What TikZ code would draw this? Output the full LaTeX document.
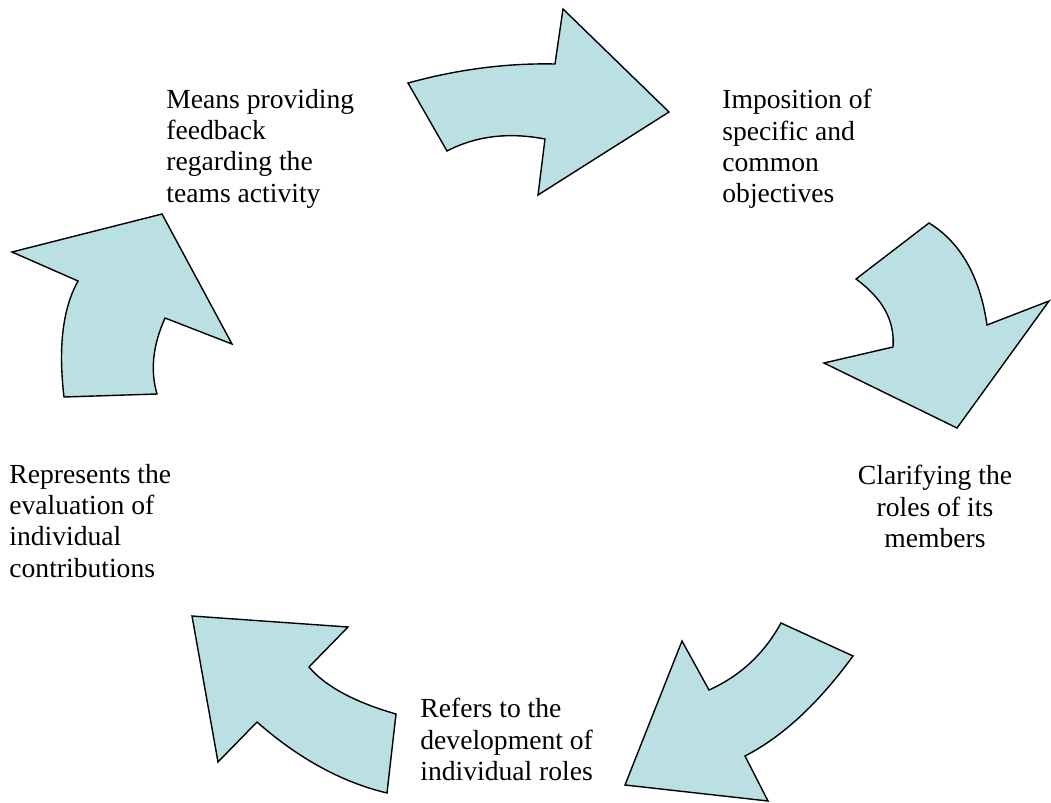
\documentclass[tikz,border=0pt]{standalone}
\usepackage{fontspec}
\setmainfont{Liberation Serif}
\definecolor{arrowfill}{RGB}{187,224,227}
\begin{document}
\begin{tikzpicture}[x=0.5pt,y=-0.5pt,
        cyclearrow/.style={draw=black,fill=arrowfill,line width=0.7pt,line join=miter},
        cycletext/.style={inner sep=0pt,align=left,font=\fontsize{13.8}{15.6}\selectfont}]
        \useasboundingbox (0,0) rectangle (1051,803);

        % the five curved arrows of the cycle
        \draw[cyclearrow] (408,83) .. controls (459,69) and (508,63) .. (555,64) -- (563,9) -- (669,112)
         -- (538,195) -- (545,139) .. controls (508,132) and (476,136) .. (447,151) -- cycle;
        \draw[cyclearrow] (929,223) .. controls (960,242) and (980,276) .. (987,325) -- (1049,301) -- (957,428)
         -- (824,363) -- (893,347) .. controls (895,320) and (882,298) .. (856,279) -- cycle;
        \draw[cyclearrow] (853,656) .. controls (818,704) and (782,737) .. (745,756) -- (768,801) -- (625,785)
         -- (682,641) -- (709,690) .. controls (740,676) and (764,654) .. (781,623) -- cycle;
        \draw[cyclearrow] (387,793) .. controls (341,782) and (298,758) .. (257,722) -- (218,762) -- (192,616)
         -- (348,627) -- (309,667) .. controls (325,686) and (354,702) .. (396,714) -- cycle;
        \draw[cyclearrow] (64,397) .. controls (58,346) and (63,308) .. (78,281) -- (12,252) -- (162,214)
         -- (232,344) -- (165,318) .. controls (153,345) and (150,370) .. (157,394) -- cycle;

        \node[cycletext,anchor=north west] (feedback) at (166,89)
         {Means providing\\feedback\\regarding the\\teams activity};
        \node[cycletext,anchor=north west] (objectives) at (722,89)
         {Imposition of\\specific and\\common\\objectives};
        \node[cycletext,anchor=north,align=center] (members) at (935,465)
         {Clarifying the\\roles of its\\members};
        \node[cycletext,anchor=north west] (roles) at (420,698)
         {Refers to the\\development of\\individual roles};
        \node[cycletext,anchor=north west] (evaluation) at (9,464)
         {Represents the\\evaluation of\\individual\\contributions};
\end{tikzpicture}
\end{document}
